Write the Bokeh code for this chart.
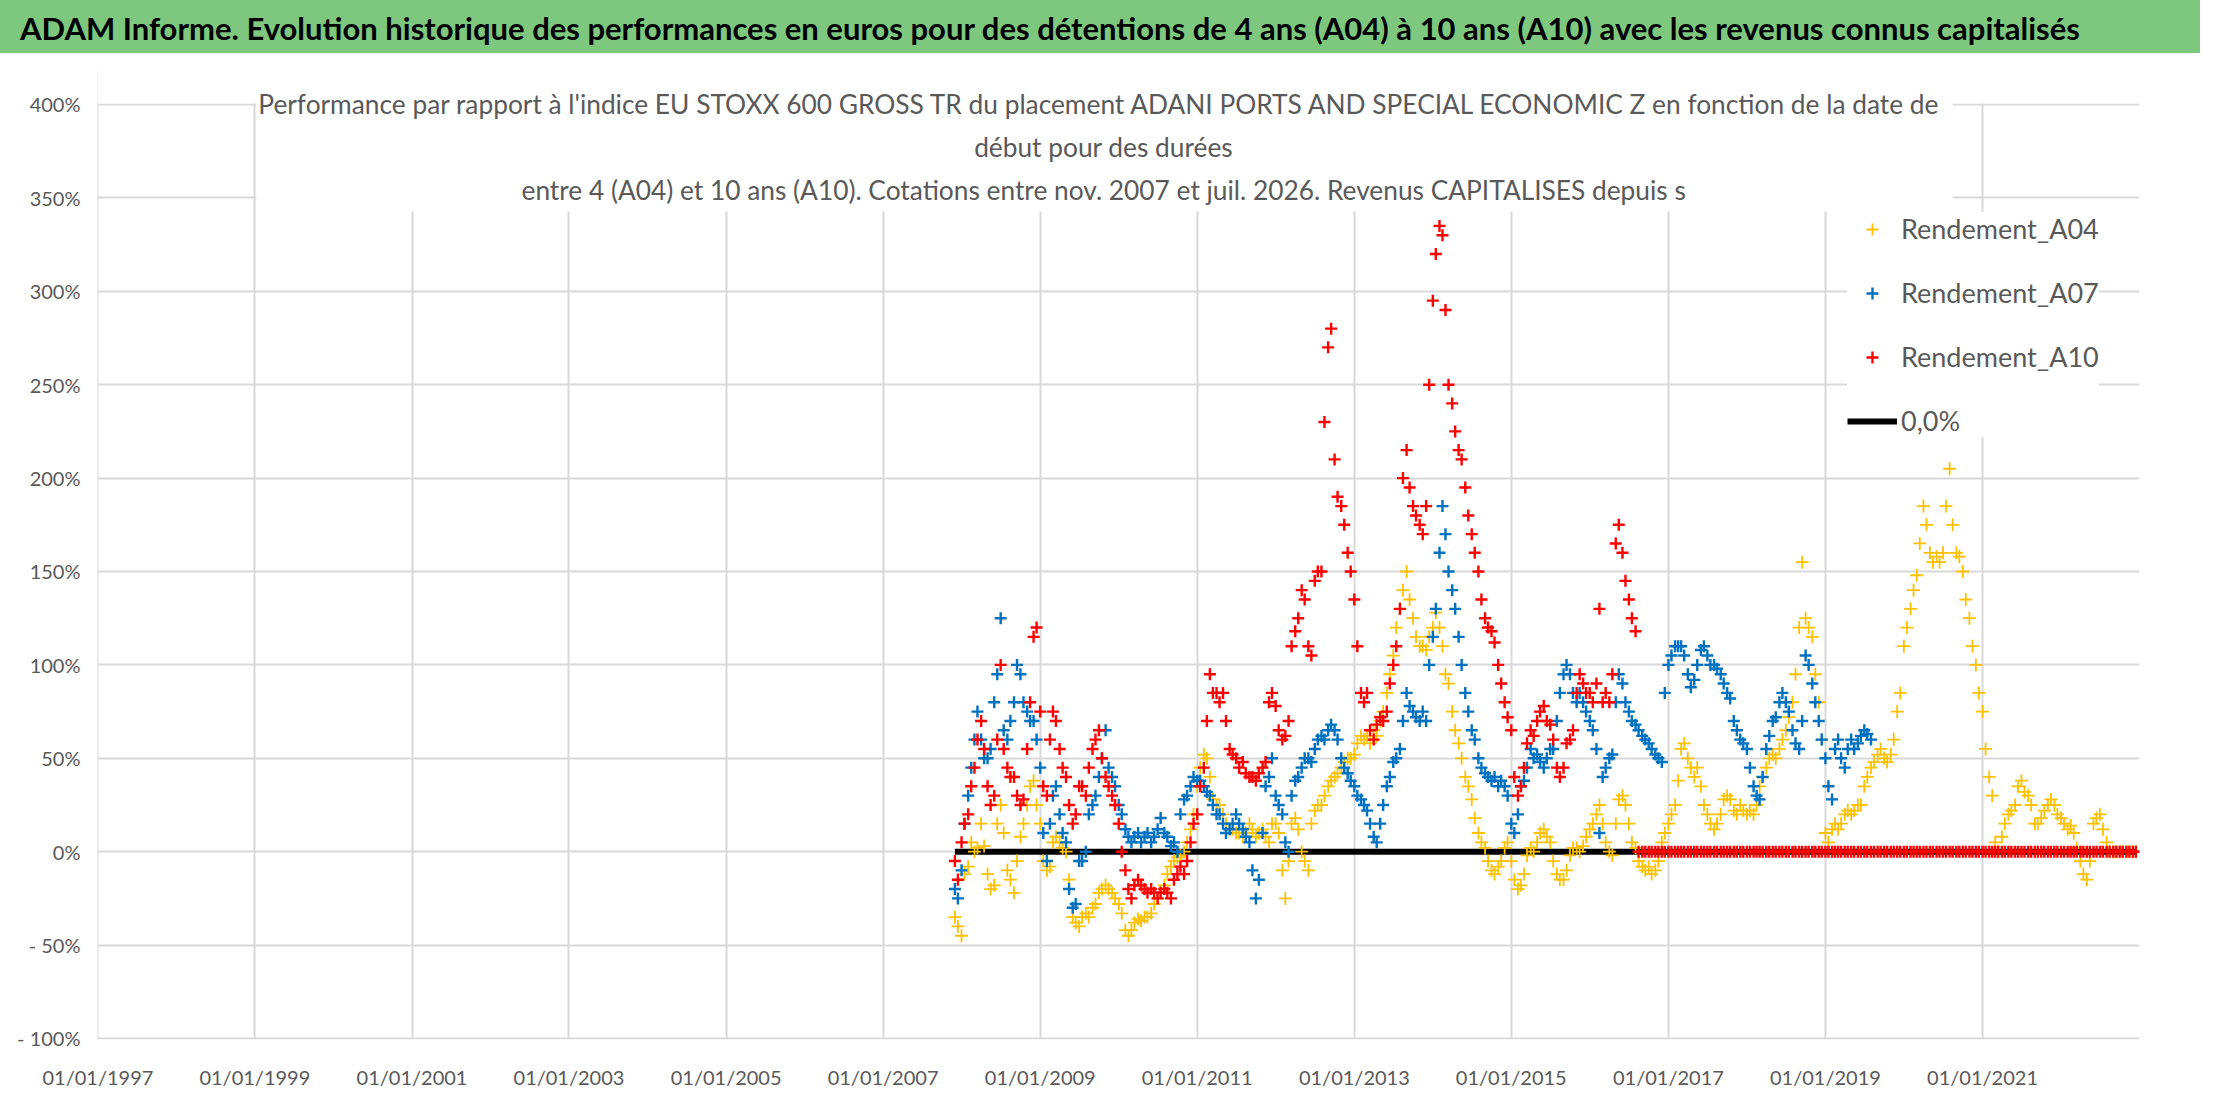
import pandas as pd

from bokeh.embed import file_html
from bokeh.layouts import column
from bokeh.models import (BoxAnnotation, DatetimeTickFormatter, Div, FixedTicker,
                          Label, Legend, LegendItem, Range1d)
from bokeh.plotting import figure
from bokeh.resources import INLINE

HEADER = ("ADAM Informe. Evolution historique des performances en euros pour des "
          "détentions de 4 ans (A04) à 10 ans (A10) avec les revenus connus capitalisés")
TITLE_LINES = [
    "Performance par rapport à l'indice EU STOXX 600 GROSS TR  du placement ADANI PORTS "
    "AND SPECIAL ECONOMIC Z en fonction de la date de",
    "début pour des durées",
    "entre 4 (A04) et 10 ans (A10). Cotations entre nov. 2007 et juil. 2026. "
    "Revenus CAPITALISES depuis s",
]

x_tick_dates = ["1997-01-01", "1999-01-01", "2001-01-01", "2003-01-01", "2005-01-01",
                "2007-01-01", "2009-01-01", "2011-01-01", "2013-01-01", "2015-01-01",
                "2017-01-01", "2019-01-01", "2021-01-01"]
y_ticks = [-100, -50, 0, 50, 100, 150, 200, 250, 300, 350, 400]
y_tick_labels = ["- 100%", "- 50%", "0%", "50%", "100%", "150%", "200%", "250%",
                 "300%", "350%", "400%"]

# half-monthly readings (%), 1st and 16th of each month, starting at series_start
series_start = "2007-12-01"
a04 = [-35, -40,                                                                # 2007
       -45, -12, -8, 5, 0, 2, 15, 3, -12, -20, -18, 15,
       25, 10, -10, -15, -22, -5, 8, 15, 25, 35, 38, 25,                        # 2008
       15, -5, -10, -8, 5, 8, 5, 2, 0, -15, -35, -38,
       -40, -35, -33, -35, -30, -28, -22, -20, -18, -20, -22, -25,              # 2009
       -28, -33, -42, -45, -42, -38, -36, -37, -35, -35, -33, -28,
       -25, -22, -18, -12, -8, -5, -3, -2, 0, 5, 12, 20,                        # 2010
       35, 45, 52, 50, 40, 28, 25, 25, 20, 15, 12, 12,
       10, 10, 8, 10, 15, 12, 8, 10, 12, 8, 5, 15,                              # 2011
       15, 10, -10, -25, -5, 15, 18, 12, 0, -5, -10, 15,
       22, 25, 25, 30, 35, 38, 40, 42, 45, 48, 50, 50,                          # 2012
       52, 58, 62, 60, 62, 58, 65, 62, 70, 75, 85, 95,
       105, 120, 130, 140, 150, 135, 125, 115, 110, 110, 108, 115,              # 2013
       120, 128, 120, 110, 95, 90, 75, 65, 58, 50, 40, 35,
       28, 18, 10, 5, 2, -5, -10, -12, -8, -5, 2, 5,                            # 2014
       -5, -15, -20, -18, -12, -2, 2, 0, 5, 10, 12, 8,
       5, -5, -12, -15, -15, -10, -2, 2, 2, 0, 3, 8,                            # 2015
       12, 15, 20, 25, 15, 5, 0, -2, 15, 28, 30, 25,
       15, 5, 2, -5, -8, -10, -8, -12, -10, -5, 5, 10,                          # 2016
       15, 20, 25, 38, 55, 58, 50, 45, 40, 45, 35, 25,
       20, 15, 12, 15, 20, 28, 30, 28, 22, 20, 25, 22,                          # 2017
       20, 22, 20, 25, 35, 40, 45, 50, 52, 50, 55, 60,
       65, 72, 80, 95, 120, 155, 125, 120, 115, 95, 80, 60,                     # 2018
       10, 5, 12, 15, 12, 15, 20, 22, 20, 22, 25, 25,
       35, 40, 45, 48, 52, 55, 50, 48, 52, 60, 75, 85,                          # 2019
       110, 120, 130, 140, 148, 165, 185, 175, 160, 155, 158, 155,
       160, 185, 205, 175, 160, 158, 150, 135, 125, 110, 100, 85,               # 2020
       75, 55, 40, 30, 5, 0, 8, 15, 20, 22, 25, 35,
       38, 32, 30, 25, 15, 15, 18, 22, 25, 28, 25, 20,                          # 2021
       18, 15, 12, 14, 10, 2, -5, -12, -15, -5, 15, 18,
       20, 12, 5, 0, 0, 0, 0, 0, 0, 0, 0, 0]                                    # 2022
a07 = [-20, -25,                                                                # 2007
       -10, 15, 30, 45, 60, 75, 60, 50, 50, 55, 80, 95,
       125, 65, 60, 70, 80, 100, 95, 80, 75, 70, 70, 60,                        # 2008
       45, 10, -5, 15, 30, 35, 20, 10, 5, -20, -30, -28,
       -5, -5, 0, 20, 25, 30, 40, 50, 65, 45, 40, 35,                           # 2009
       25, 20, 12, 8, 5, 8, 10, 5, 8, 10, 5, 8,
       12, 18, 10, 8, 3, 5, 0, 20, 28, 30, 35, 40,                              # 2010
       38, 38, 35, 32, 30, 25, 20, 20, 15, 10, 12, 15,
       20, 15, 12, 8, 5, -10, -25, -15, 10, 35, 40, 50,                         # 2011
       30, 25, 20, 5, 0, 30, 38, 40, 45, 50, 50, 48,
       55, 60, 62, 60, 65, 68, 65, 60, 50, 45, 42, 38,                          # 2012
       35, 30, 28, 25, 22, 15, 8, 5, 15, 25, 35, 40,
       48, 50, 55, 70, 85, 78, 75, 72, 70, 75, 70, 100,                         # 2013
       115, 130, 160, 185, 170, 150, 140, 130, 115, 100, 85, 75,
       65, 60, 50, 45, 42, 40, 38, 40, 35, 38, 35, 30,                          # 2014
       15, 10, 20, 35, 38, 45, 55, 50, 52, 48, 45, 50,
       55, 55, 70, 85, 95, 100, 95, 85, 80, 85, 80, 75,                         # 2015
       70, 65, 55, 10, 40, 45, 50, 52, 80, 95, 90, 80,
       75, 70, 68, 65, 62, 60, 58, 55, 52, 50, 48, 85,                          # 2016
       100, 105, 110, 110, 110, 105, 95, 88, 92, 100, 108, 110,
       105, 100, 100, 98, 95, 90, 85, 82, 70, 65, 60, 58,                       # 2017
       55, 45, 35, 30, 28, 40, 55, 62, 70, 72, 80, 85,
       80, 75, 65, 58, 55, 70, 105, 100, 90, 80, 70, 60,                        # 2018
       50, 35, 28, 55, 60, 50, 45, 55, 60, 55, 58, 62,
       65, 63, 60]                                                              # 2019
a10 = [-5, -15,                                                                 # 2007
       5, 15, 20, 35, 45, 60, 70, 55, 35, 25, 30, 60,
       100, 55, 45, 40, 40, 30, 25, 28, 55, 80, 115, 120,                       # 2008
       75, 35, 30, 60, 75, 70, 55, 45, 40, 25, 15, 20,
       35, 35, 30, 45, 55, 60, 65, 50, 40, 35, 30, 25,                          # 2009
       15, 0, -10, -20, -25, -18, -15, -18, -20, -22, -20, -22,
       -25, -22, -20, -22, -25, -15, -12, -8, -12, -5, 5, 15,                   # 2010
       20, 35, 45, 70, 95, 85, 85, 80, 85, 70, 55, 52,
       50, 45, 48, 42, 40, 40, 38, 42, 45, 48, 80, 85,                          # 2011
       78, 65, 60, 62, 70, 110, 118, 125, 140, 135, 110, 105,
       145, 150, 150, 230, 270, 280, 210, 190, 185, 175, 160, 150,              # 2012
       135, 110, 85, 80, 85, 65, 60, 68, 72, 70, 75, 90,
       100, 110, 130, 200, 215, 195, 185, 180, 175, 170, 185, 250,              # 2013
       295, 320, 335, 330, 290, 250, 240, 225, 215, 210, 195, 180,
       170, 160, 150, 135, 125, 120, 118, 112, 100, 90, 80, 72,                 # 2014
       65, 40, 30, 35, 45, 58, 65, 62, 70, 75, 78, 70,
       68, 60, 45, 40, 45, 58, 60, 65, 85, 95, 90, 85,                          # 2015
       85, 80, 90, 130, 80, 85, 80, 95, 165, 175, 160, 145,
       135, 125, 118, 0, 0, 0, 0, 0, 0, 0, 0, 0,                                # 2016
       0, 0, 0, 0, 0, 0, 0, 0, 0, 0, 0, 0, 0, 0, 0, 0, 0, 0, 0, 0, 0, 0, 0, 0,  # 2017
       0, 0, 0, 0, 0, 0, 0, 0, 0, 0, 0, 0, 0, 0, 0, 0, 0, 0, 0, 0, 0, 0, 0, 0,  # 2018
       0, 0, 0, 0, 0, 0, 0, 0, 0, 0, 0, 0, 0, 0, 0, 0, 0, 0, 0, 0, 0, 0, 0, 0,  # 2019
       0, 0, 0, 0, 0, 0, 0, 0, 0, 0, 0, 0, 0, 0, 0, 0, 0, 0, 0, 0, 0, 0, 0, 0,  # 2020
       0, 0, 0, 0, 0, 0, 0, 0, 0, 0, 0, 0, 0, 0, 0, 0, 0, 0, 0, 0, 0, 0, 0, 0,  # 2021
       0, 0, 0, 0, 0, 0, 0, 0, 0, 0, 0, 0, 0, 0, 0, 0, 0, 0, 0, 0, 0, 0, 0, 0]  # 2022
zero_dates = ["2007-12-01", "2022-12-16"]
zero_values = [0, 0]

GREEN = "#7DC87E"
GREY = "#595959"
FONT = "Lato"


def half_months(values):
    return pd.date_range(series_start, periods=len(values), freq="SMS")


head = Div(width=2200, height=53, margin=(0, 0, 0, 0),
           text=(f'<div style="background:{GREEN};width:2200px;height:53px;'
                 f'line-height:57px;padding-left:20px;box-sizing:border-box;'
                 f'font-family:{FONT};font-weight:bold;font-size:31px;color:black;'
                 f'white-space:nowrap;overflow:hidden;">{HEADER}</div>'))

p = figure(width=2200, height=1041, x_axis_type="datetime",
           x_range=Range1d(pd.Timestamp("1996-12-30"), pd.Timestamp("2023-01-01")),
           y_range=Range1d(-100.54, 418.2),
           toolbar_location=None, output_backend="svg",
           min_border_left=97, min_border_right=61, min_border_top=17,
           min_border_bottom=55)
p.outline_line_color = None

p.xaxis.ticker = FixedTicker(ticks=[pd.Timestamp(d).value // 10**6 for d in x_tick_dates])
p.xaxis.formatter = DatetimeTickFormatter(years="%d/%m/%Y", months="%d/%m/%Y",
                                          days="%d/%m/%Y")
p.yaxis.ticker = FixedTicker(ticks=y_ticks)
p.yaxis.major_label_overrides = dict(zip(y_ticks, y_tick_labels))
for ax in (p.xaxis, p.yaxis):
    ax.axis_line_color = None
    ax.major_tick_line_color = None
    ax.minor_tick_line_color = None
    ax.major_tick_out = 0
    ax.major_label_text_font = FONT
    ax.major_label_text_font_size = "20px"
    ax.major_label_text_color = GREY
p.yaxis.major_label_standoff = 17
p.xaxis.major_label_standoff = 25
p.grid.grid_line_color = "#D9D9D9"
p.grid.grid_line_width = 2

# keep the area above 400% clean, and a white box behind the chart title
p.add_layout(BoxAnnotation(bottom=400.6, fill_color="white", fill_alpha=1,
                           line_color=None, level="underlay"))
p.add_layout(BoxAnnotation(left=pd.Timestamp("1999-01-08"), right=pd.Timestamp("2020-08-14"),
                           bottom=342.7, fill_color="white", fill_alpha=1,
                           line_color=None, level="underlay"))

rz = p.line(pd.to_datetime(zero_dates), zero_values, line_color="black", line_width=6)
r04 = p.scatter(half_months(a04), a04, marker="cross", size=13, line_color="#FFC000",
                line_width=1.8)
r07 = p.scatter(half_months(a07), a07, marker="cross", size=12, line_color="#0070C0",
                line_width=2.4)
r10 = p.scatter(half_months(a10), a10, marker="cross", size=12, line_color="#FF0000",
                line_width=2.4)

title_x = pd.Timestamp("2009-10-23")
for text, y in zip(TITLE_LINES, [400.5, 377, 354]):
    p.add_layout(Label(x=title_x, y=y, text=text, text_align="center",
                       text_baseline="middle", text_font=FONT, text_font_size="26.3px",
                       text_color=GREY))

legend = Legend(items=[LegendItem(label="Rendement_A04", renderers=[r04]),
                       LegendItem(label="Rendement_A07", renderers=[r07]),
                       LegendItem(label="Rendement_A10", renderers=[r10]),
                       LegendItem(label="0,0%", renderers=[rz])],
                location=(1750, 602), glyph_width=50, glyph_height=30,
                label_height=30, spacing=31, padding=17, label_standoff=4,
                label_text_font=FONT, label_text_font_size="27px",
                label_text_color=GREY, background_fill_alpha=1,
                border_line_color=None)
p.add_layout(legend)

page = column(head, p, spacing=0)
open("out.html", "w").write(file_html(page, INLINE))
